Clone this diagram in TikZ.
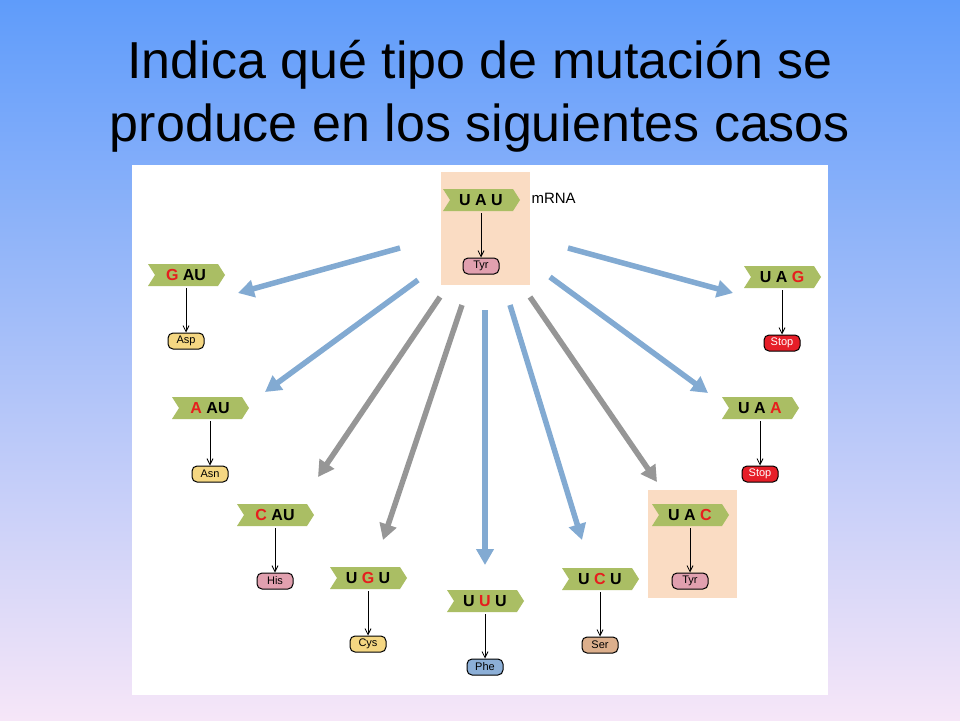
\documentclass[tikz,border=0pt]{standalone}
\usepackage{fontspec}
\setmainfont{Liberation Sans}
\usetikzlibrary{arrows.meta,calc}
\definecolor{tagc}{RGB}{170,190,100}
\definecolor{blu}{RGB}{130,170,210}
\definecolor{gry}{RGB}{150,150,150}
\definecolor{peach}{RGB}{250,220,195}
\definecolor{mutr}{RGB}{230,30,30}
\definecolor{cpink}{RGB}{225,160,175}
\definecolor{cyel}{RGB}{245,215,130}
\definecolor{cblue}{RGB}{140,175,215}
\definecolor{ctan}{RGB}{220,175,140}
\definecolor{cred}{RGB}{230,30,40}
\tikzset{
 aa/.style={draw=black,line width=1pt,rounded corners=5pt,minimum width=36pt,minimum height=16pt,inner sep=1pt,font=\fontsize{11}{12}\selectfont},
 cod/.style={font=\bfseries\fontsize{16}{18}\selectfont,inner sep=0pt},
 arr/.style={line width=5.5pt,-{Triangle[length=16pt,width=17pt]}},
 thin/.style={-{Straight Barb[length=6pt,width=6pt]},line width=0.8pt}
}
\newcommand{\codon}[5]{%
 \fill[tagc] ($(#2)+(-38,-11)$) -- ++(70,0) -- ++(7,11) -- ++(-7,11) -- ++(-70,0) -- ++(7,-11) -- cycle;
 \node[cod] (#1) at (#2) {#3};
 \node[aa,fill=#4] (#1a) at ($(#2)+(0,66)$) {#5};
 \draw[thin] ($(#2)+(0,13)$) -- (#1a.north);
}
\begin{document}
\begin{tikzpicture}[x=1pt,y=-1pt]
\shade[top color={rgb,255:red,95;green,156;blue,250},bottom color={rgb,255:red,246;green,230;blue,248}] (0,0) rectangle (960,720);
\useasboundingbox (0,0) rectangle (960,720);
\node[font=\fontsize{52}{63}\selectfont,align=center] (title) at (480,96) {Indica qué tipo de mutación se\\produce en los siguientes casos};
\fill[white] (132,165) rectangle (828,695);
\fill[peach] (441,172) rectangle (530,285);
\fill[peach] (648,490) rectangle (737,598);
\codon{c0}{481,200}{U A U}{cpink}{Tyr}
\node[font=\fontsize{15}{16}\selectfont,anchor=west] (mrna) at (528,198) {mRNA};
\codon{c1}{186,275}{\textcolor{mutr}{G} AU}{cyel}{Asp}
\codon{c2}{210,408}{\textcolor{mutr}{A} AU}{cyel}{Asn}
\codon{c3}{275,515}{\textcolor{mutr}{C} AU}{cpink}{His}
\codon{c4}{368,578}{U \textcolor{mutr}{G} U}{cyel}{Cys}
\codon{c5}{485,601}{U \textcolor{mutr}{U} U}{cblue}{Phe}
\codon{c6}{600,579}{U \textcolor{mutr}{C} U}{ctan}{Ser}
\codon{c7}{690,515}{U A \textcolor{mutr}{C}}{cpink}{Tyr}
\codon{c8}{760,408}{U A \textcolor{mutr}{A}}{cred}{\textcolor{white}{Stop}}
\codon{c9}{782,277}{U A \textcolor{mutr}{G}}{cred}{\textcolor{white}{Stop}}
\coordinate (s1) at (400,248); \coordinate (e1) at (238,293);
\coordinate (s2) at (418,280); \coordinate (e2) at (265,392);
\coordinate (s3) at (440,297); \coordinate (e3) at (318,477);
\coordinate (s4) at (462,305); \coordinate (e4) at (383,540);
\coordinate (s5) at (485,310); \coordinate (e5) at (485,565);
\coordinate (s6) at (510,305); \coordinate (e6) at (582,540);
\coordinate (s7) at (530,297); \coordinate (e7) at (657,482);
\coordinate (s8) at (550,277); \coordinate (e8) at (708,393);
\coordinate (s9) at (568,248); \coordinate (e9) at (733,293);
\draw[arr,blu] (s1) -- (e1);
\draw[arr,blu] (s2) -- (e2);
\draw[arr,gry] (s3) -- (e3);
\draw[arr,gry] (s4) -- (e4);
\draw[arr,blu] (s5) -- (e5);
\draw[arr,blu] (s6) -- (e6);
\draw[arr,gry] (s7) -- (e7);
\draw[arr,blu] (s8) -- (e8);
\draw[arr,blu] (s9) -- (e9);
\end{tikzpicture}
\end{document}
